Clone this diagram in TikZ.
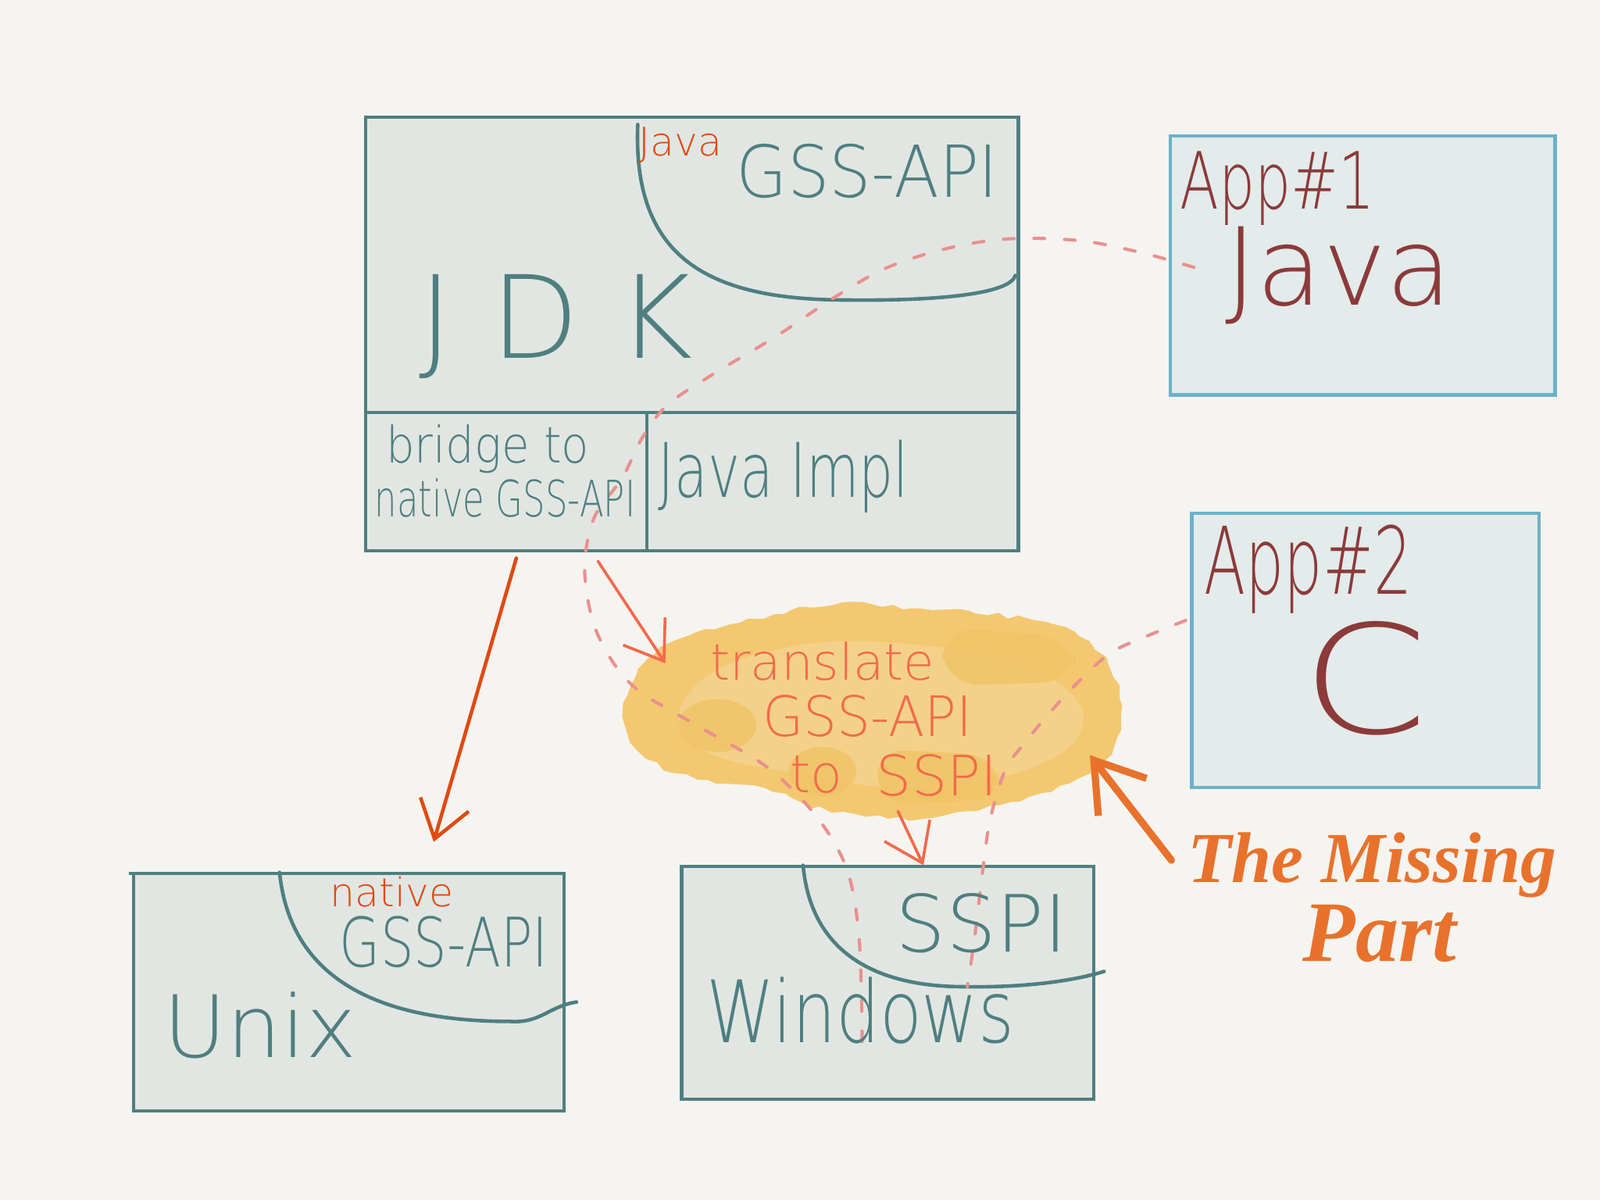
\documentclass[tikz,border=0pt]{standalone}
\usepackage{fontspec}
\usepackage{graphicx}
\setmainfont{DejaVu Sans}
\newfontfamily\thinf{DejaVuSans-ExtraLight.ttf}
\newfontfamily\scriptf{Liberation Serif}
\usetikzlibrary{arrows.meta,decorations.pathmorphing}
\definecolor{bgc}{HTML}{F5F4F0}
\definecolor{boxfill}{HTML}{E2E6E2}
\definecolor{appfill}{HTML}{E3EBEB}
\definecolor{teal}{HTML}{4F7F80}
\definecolor{bluec}{HTML}{6AB2C9}
\definecolor{darkred}{HTML}{8C3A3A}
\definecolor{ored}{HTML}{E04A12}
\definecolor{coral}{HTML}{F26A4B}
\definecolor{orng}{HTML}{E8722C}
\definecolor{pinkd}{HTML}{E9918E}
\definecolor{cloudo}{HTML}{F3C870}
\definecolor{cloudi}{HTML}{F6D99F}
\definecolor{patch}{HTML}{F1C466}
\newcommand\myfs[1]{\fontsize{#1}{#1}\selectfont}
\newcommand\hx[2]{\scalebox{#1}[1]{#2}}
\tikzset{
  boxline/.style={draw=teal, line width=0.9pt, fill=boxfill},
  appline/.style={draw=bluec, line width=0.9pt, fill=appfill},
  arcline/.style={draw=teal, line width=1pt, line cap=round},
  txt/.style={inner sep=0pt, anchor=center, font=\thinf},
  pdash/.style={draw=pinkd, line width=0.9pt, line cap=round, dash pattern=on 3pt off 5.5pt},
  harrow/.style={line width=0.8pt, line cap=round, -{Straight Barb[length=10pt,width=14pt]}},
}
\begin{document}
\begin{tikzpicture}[x=0.01cm, y=-0.01cm]
\useasboundingbox[fill=bgc] (0,0) rectangle (1568,1176);

% boxes
\coordinate (jdkTL) at (358,115); \coordinate (jdkBR) at (998,540);
\draw[boxline] (jdkTL) rectangle (jdkBR);
\coordinate (divL) at (358,404); \coordinate (divR) at (998,404);
\draw[teal, line width=0.9pt] (divL) -- (divR);
\coordinate (vdT) at (634,404); \coordinate (vdB) at (634,540);
\draw[teal, line width=0.9pt] (vdT) -- (vdB);

\coordinate (a1TL) at (1147,133); \coordinate (a1BR) at (1524,387);
\draw[appline] (a1TL) rectangle (a1BR);
\coordinate (a2TL) at (1168,503); \coordinate (a2BR) at (1508,772);
\draw[appline] (a2TL) rectangle (a2BR);

\coordinate (uxTL) at (131,856); \coordinate (uxBR) at (553,1089);
\draw[boxline] (uxTL) rectangle (uxBR);
\coordinate (uxL) at (126,856);
\draw[teal, line width=0.9pt] (uxL) -- (uxTL);
\coordinate (wnTL) at (668,849); \coordinate (wnBR) at (1072,1077);
\draw[boxline] (wnTL) rectangle (wnBR);

% arcs
\coordinate (ja0) at (625,122); \coordinate (ja1) at (830,294); \coordinate (ja2) at (995,270);
\draw[arcline] (ja0) .. controls (620,250) and (690,294) .. (ja1)
  .. controls (920,295) and (990,288) .. (ja2);
\coordinate (ua0) at (274,855); \coordinate (ua1) at (500,1001); \coordinate (ua2) at (565,982);
\draw[arcline] (ua0) .. controls (285,965) and (380,1001) .. (ua1)
  .. controls (530,1003) and (538,986) .. (ua2);
\coordinate (wa0) at (787,848); \coordinate (wa1) at (945,967); \coordinate (wa2) at (1082,952);
\draw[arcline] (wa0) .. controls (795,935) and (860,967) .. (wa1)
  .. controls (1000,968) and (1050,962) .. (wa2);

% cloud
\fill[cloudo, decorate, decoration={random steps, segment length=3pt, amplitude=0.8pt}]
 plot[smooth cycle, tension=0.5] coordinates {
 (612,702) (626,655) (662,628) (715,612) (775,598) (835,590) (895,596) (955,601)
 (1012,608) (1058,624) (1086,652) (1099,692) (1092,730) (1068,757) (1030,776)
 (980,789) (925,799) (870,802) (815,796) (770,778) (715,768) (660,757) (625,735)};
\fill[cloudi, opacity=0.55] plot[smooth cycle, tension=0.6] coordinates {
 (665,700) (705,655) (800,630) (900,632) (1000,650) (1058,690) (1048,732) (980,762)
 (880,772) (780,758) (695,738)};
\fill[patch, opacity=0.85, rounded corners=10pt] (922,614) -- (1052,625) -- (1056,668) -- (925,672) -- cycle;
\fill[patch, opacity=0.85] (703,711) ellipse (38 and 26);
\fill[patch, opacity=0.85] (806,756) ellipse (33 and 24);
\fill[patch, opacity=0.85, rounded corners=8pt] (858,734) -- (975,740) -- (982,783) -- (862,789) -- cycle;

% dashed connections
\coordinate (d1s) at (1170,262);
\coordinate (d1e) at (845,1025);
\draw[pdash] plot[smooth, tension=0.55] coordinates {
 (d1s) (1120,248) (1060,236) (990,234) (930,243) (870,262) (820,290) (760,330)
 (700,366) (655,396) (630,428) (610,468) (582,508) (573,560) (585,620) (620,672)
 (685,712) (752,752) (800,800) (830,852) (842,920) (d1e)};
\coordinate (d2s) at (1162,608);
\coordinate (d2e) at (948,967);
\draw[pdash] plot[smooth, tension=0.55] coordinates {
 (d2s) (1120,625) (1088,640) (1058,667) (1030,697) (1005,727) (985,755) (970,805)
 (962,862) (955,920) (d2e)};

% arrows
\coordinate (ar1s) at (506,547); \coordinate (ar1e) at (425,825);
\draw[harrow, ored, line width=1pt] (ar1s) -- (ar1e);
\coordinate (ar2s) at (586,550); \coordinate (ar2e) at (652,650);
\draw[harrow, coral] (ar2s) -- (ar2e);
\coordinate (ar3s) at (880,795); \coordinate (ar3e) at (905,848);
\draw[harrow, coral] (ar3s) -- (ar3e);
\coordinate (ar4s) at (1148,843); \coordinate (ar4e) at (1068,740);
\draw[orng, line width=2pt, line cap=round, -{Straight Barb[length=13pt,width=17pt]}] (ar4s) -- (ar4e);

% texts
\node[txt, text=ored] (javaLbl) at (667,142) {\myfs{11}Java};
\node[txt, text=teal] (gssJdk) at (850,168) {\myfs{20}\hx{0.92}{GSS-API}};
\node[txt, text=teal] (jdkTxt) at (545,320) {\myfs{32}J\,\,D\,\,K};
\node[txt, text=teal] (bridge1) at (478,440) {\myfs{14}\hx{0.9}{bridge to}};
\node[txt, text=teal] (bridge2) at (495,488) {\myfs{14}\hx{0.7}{native GSS-API}};
\node[txt, text=teal] (javaImpl) at (768,467) {\myfs{21}\hx{0.72}{Java Impl}};
\node[txt, text=darkred] (app1) at (1252,185) {\myfs{22}\hx{0.72}{App\#1}};
\node[txt, text=darkred] (app1java) at (1312,270) {\myfs{30}Java};
\node[txt, text=darkred] (app2) at (1282,558) {\myfs{26}\hx{0.65}{App\#2}};
\node[txt, text=darkred] (cTxt) at (1338,665) {\myfs{42}\hx{1.2}{C}};
\node[txt, text=ored] (nativeLbl) at (384,874) {\myfs{11}native};
\node[txt, text=teal] (gssUnix) at (435,923) {\myfs{19}\hx{0.77}{GSS-API}};
\node[txt, text=teal] (unixTxt) at (255,1005) {\myfs{24}Unix};
\node[txt, text=teal] (sspiTxt) at (962,905) {\myfs{22}SSPI};
\node[txt, text=teal] (winTxt) at (843,990) {\myfs{24}\hx{0.8}{Windows}};
\node[txt, text=coral] (cl1) at (806,648) {\myfs{14}translate};
\node[txt, text=coral] (cl2) at (850,702) {\myfs{15.5}\hx{0.95}{GSS-API}};
\node[txt, text=coral] (cl3) at (800,759) {\myfs{14.5}to};
\node[txt, text=coral] (cl4) at (918,760) {\myfs{15.5}SSPI};
\node[inner sep=0pt, text=orng] (miss1) at (1345,848) {\scriptf\bfseries\itshape\myfs{20}The Missing};
\node[inner sep=0pt, text=orng] (miss2) at (1352,915) {\scriptf\bfseries\itshape\myfs{24}Part};
\end{tikzpicture}
\end{document}
